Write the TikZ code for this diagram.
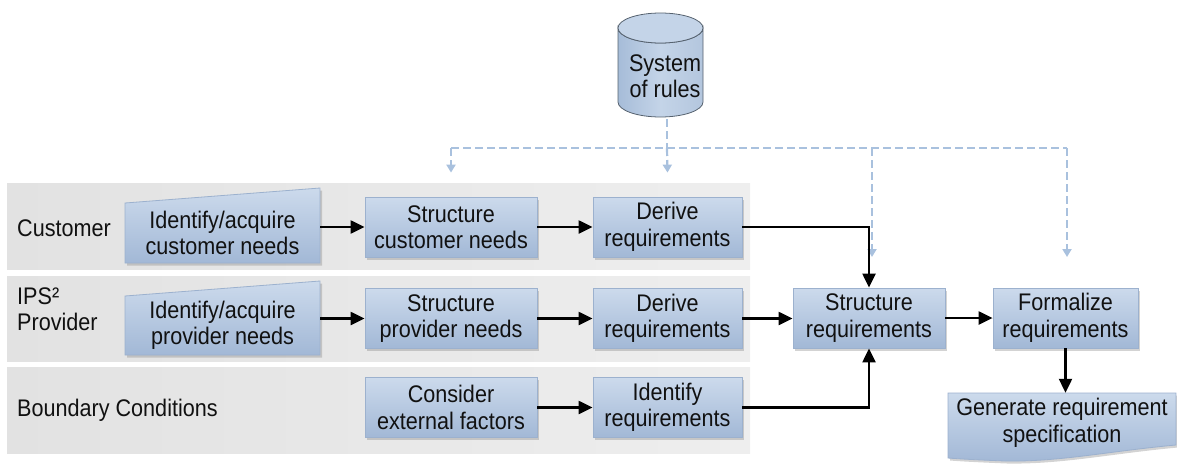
\documentclass[tikz,border=0pt]{standalone}
\usepackage{fontspec}
\setmainfont{Liberation Sans}[FakeStretch=0.9]
\usetikzlibrary{arrows.meta,shadows,calc}
\definecolor{boxtop}{HTML}{CCDAEC}
\definecolor{boxbot}{HTML}{A2B8D6}
\definecolor{boxline}{HTML}{9CB1CE}
\definecolor{laneA}{HTML}{E2E2E2}
\definecolor{laneB}{HTML}{EEEEEE}
\definecolor{dashblue}{HTML}{A9C1DE}
\definecolor{cylline}{HTML}{56626F}
\definecolor{cyltop}{HTML}{C4D4E8}
\definecolor{cylside}{HTML}{A6BCD8}
\definecolor{textc}{HTML}{111111}
\begin{document}
\begin{tikzpicture}[x=1pt,y=-1pt,
  font=\fontsize{24}{26.5}\selectfont,
  lane/.style={left color=laneA, right color=laneB, draw=none},
  boxfill/.style={draw=boxline, line width=0.8pt, top color=boxtop, bottom color=boxbot,
    drop shadow={opacity=0.35, shadow xshift=2pt, shadow yshift=-2.5pt}},
  procbox/.style={boxfill, rectangle, minimum height=60pt, inner sep=0pt, align=center, text=textc},
  txt/.style={inner sep=0pt, align=center, text=textc},
  lbl/.style={inner sep=0pt, align=left, anchor=west, text=textc},
  arr/.style={line width=2.2pt, -{Triangle[length=14pt,width=13pt]}},
  darr/.style={draw=dashblue, line width=2.2pt, dash pattern=on 8pt off 4pt, -{Triangle[length=8pt,width=9pt]}},
  dline/.style={draw=dashblue, line width=2.2pt, dash pattern=on 8pt off 4pt}]
\useasboundingbox (0,0) rectangle (1177,463);

% lanes
\fill[lane] (7,183) rectangle (750,269);
\fill[lane] (7,276) rectangle (750,361);
\fill[lane] (7,367) rectangle (750,453);

% lane labels
\node[lbl] (lcust) at (17,228) {Customer};
\node[lbl] (lprov) at (17,309) {IPS²\\Provider};
\node[lbl] (lbound) at (17,410) {Boundary Conditions};

% system of rules cylinder
\path[draw=cylline, line width=0.8pt, left color=cylside, right color=cylside!85!white, middle color=cyltop]
  (618,28) -- (618,102) arc[start angle=180, end angle=0, x radius=42.5, y radius=15]
  -- (703,28) arc[start angle=0, end angle=180, x radius=42.5, y radius=15] -- cycle;
\draw[cylline, line width=0.8pt, fill=cyltop] (660.5,28) ellipse[x radius=42.5, y radius=15];
\node[txt] (rules) at (665,76) {System\\of rules};
\coordinate (cylbot) at (667,119);
\coordinate (hub) at (667,148);

% slanted-top input boxes
\path[boxfill] (125,203) -- (320,188) -- (320,263) -- (125,263) -- cycle;
\node[txt, minimum width=195pt, minimum height=60pt] (ic) at (222.5,233) {Identify/acquire\\customer needs};
\path[boxfill] (125,296) -- (320,281) -- (320,355) -- (125,355) -- cycle;
\node[txt, minimum width=195pt, minimum height=59pt] (ip) at (222.5,325.5) {Identify/acquire\\provider needs};

% process boxes
\node[procbox, minimum width=172pt] (sc) at (451,227) {Structure\\customer needs};
\node[procbox, minimum width=149pt] (dc) at (667.5,227) {Derive\\requirements};
\node[procbox, minimum width=172pt] (sp) at (451,318.5) {Structure\\provider needs};
\node[procbox, minimum width=149pt] (dp) at (667.5,318.5) {Derive\\requirements};
\node[procbox, minimum width=172pt] (ce) at (451,407.5) {Consider\\external factors};
\node[procbox, minimum width=149pt] (ir) at (667.5,407.5) {Identify\\requirements};
\node[procbox, minimum width=152pt] (sr) at (869,318) {Structure\\requirements};
\node[procbox, minimum width=145pt] (fr) at (1065.5,318) {Formalize\\requirements};

% document box
\path[boxfill] (948,393) -- (1176,393) -- (1176,445)
  .. controls (1110,451) and (1060,462) .. (1005,461)
  .. controls (980,460) and (960,459) .. (948,458) -- cycle;
\node[txt, minimum width=228pt, minimum height=60pt] (gen) at (1062,423) {Generate requirement\\specification};

% dashed rule connectors
\draw[dline] (cylbot) -- (hub);
\draw[dline] (sc.north |- hub) -- (1067,148);
\draw[darr] (sc.north |- hub) -- ([yshift=24pt]sc.north);
\draw[darr] (hub) -- ([yshift=24pt]dc.north);
\draw[darr] (872,148) -- (872,257);
\draw[darr] (1067,148) -- (1067,257);

% black flow connectors
\draw[arr] (ic.east |- sc.west) -- (sc.west);
\draw[arr] (sc) -- (dc);
\draw[arr] (ip.east |- sp.west) -- (sp.west);
\draw[arr] (sp) -- (dp);
\draw[arr] (ce) -- (ir);
\draw[arr] (dc.east) -| (sr.north);
\draw[arr] (dp.east) -- (sr.west |- dp.east);
\draw[arr] (ir.east) -| (sr.south);
\draw[arr] (sr) -- (fr);
\draw[arr] (fr.south) -- (fr.south |- gen.north);
\end{tikzpicture}
\end{document}
